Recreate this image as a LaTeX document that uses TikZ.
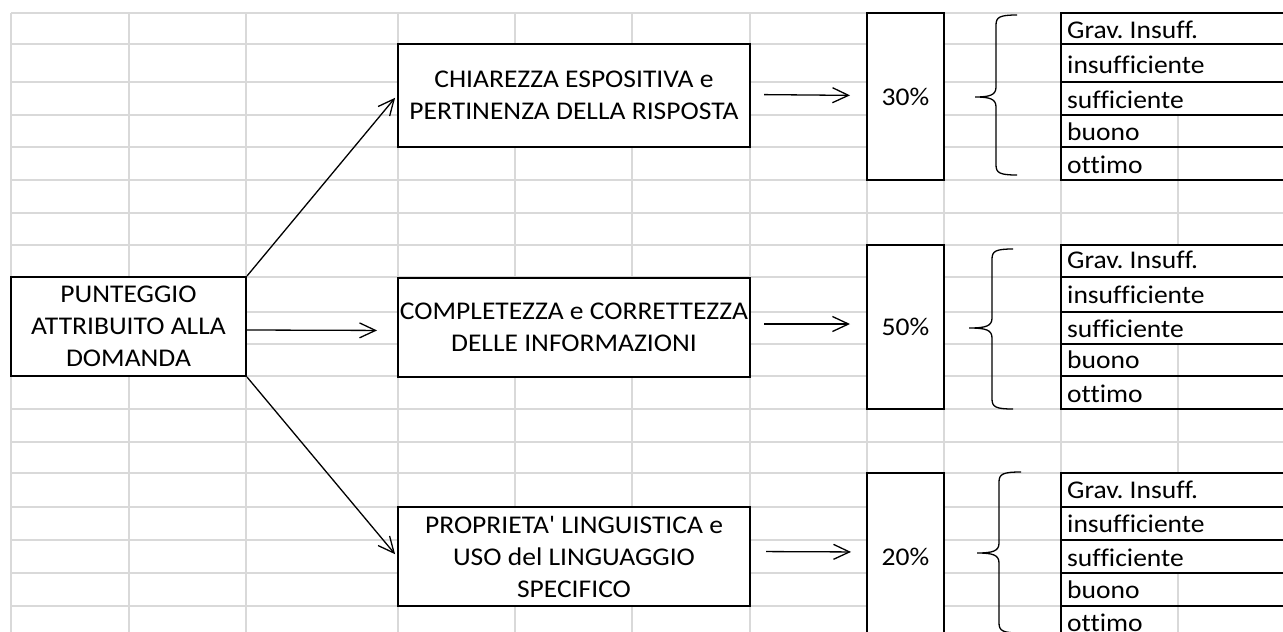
\documentclass[tikz,border=0pt]{standalone}
\usepackage{fontspec}
\newfontfamily\xlfont{Carlito}[FakeStretch=1.08,Ligatures=CommonOff]
\usetikzlibrary{arrows.meta}
\definecolor{gridc}{RGB}{217,217,217}
\frenchspacing
\tikzset{
  gridline/.style={draw=gridc,line width=1.2pt},
  box/.style={draw=black,line width=2pt,fill=white,align=center,inner sep=0pt,
    font=\xlfont\fontsize{25.5}{32}\selectfont},
  conn/.style={draw=black,line width=1.3pt,-{Straight Barb[length=16pt,width=15pt]}},
  bracepath/.style={draw=black,line width=1.3pt},
  cell/.style={anchor=base west,inner sep=0pt,font=\xlfont\fontsize{25.5}{32}\selectfont},
  tline/.style={draw=black,line width=2pt},
}
\begin{document}
\begin{tikzpicture}[x=1pt,y=-1pt]
\useasboundingbox (0,0) rectangle (1283,632);
\fill[white] (0,0) rectangle (1283,632);
% grid
\foreach \y in {13,44,82,115,147,180,213,245,277,312,344,376,409,442,473,507,540,573,606}
  \draw[gridline] (11,\y) -- (1290,\y);
\foreach \x in {11,129,246,398,515,632,750,867,944,1061}
  \draw[gridline] (\x,13) -- (\x,640);
\draw[gridline] (1178,115) -- (1178,245);
\draw[gridline] (1178,344) -- (1178,473);
\draw[gridline] (1178,573) -- (1178,640);

% boxes
\node[box,minimum width=235pt,minimum height=99pt] (pun) at (128.5,326.5)
  {PUNTEGGIO\\ATTRIBUITO ALLA\\DOMANDA};
\node[box,minimum width=352pt,minimum height=103pt] (chi) at (574,95.5)
  {CHIAREZZA ESPOSITIVA e\\PERTINENZA DELLA RISPOSTA};
\node[box,minimum width=352pt,minimum height=99pt] (comp) at (574,327)
  {COMPLETEZZA e CORRETTEZZA\\DELLE INFORMAZIONI};
\node[box,minimum width=352pt,minimum height=99pt] (prop) at (574,556.5)
  {PROPRIETA' LINGUISTICA e\\USO del LINGUAGGIO\\SPECIFICO};

\node[box,minimum width=77pt,minimum height=167pt] (p30) at (905.5,96.5) {30\%};
\node[box,minimum width=77pt,minimum height=164pt] (p50) at (905.5,327) {50\%};
\node[box,minimum width=77pt,minimum height=168pt] (p20) at (905.5,557) {20\%};

% connectors
\draw[conn,shorten >=3pt] (pun.north east) -- (chi.west);
\draw[conn,shorten >=20pt] ([yshift=-3.5pt]pun.east) -- ([yshift=-3.5pt]comp.west);
\draw[conn,shorten >=3pt] (pun.south east) -- (prop.west);
\draw[conn,shorten <=13pt,shorten >=16pt] ([yshift=1pt]chi.east) -- ([yshift=1pt]p30.west);
\draw[conn,shorten <=13pt,shorten >=16pt] ([yshift=3pt]comp.east) -- ([yshift=3pt]p50.west);
\draw[conn,shorten <=15pt,shorten >=15pt] ([yshift=5pt]prop.east) -- ([yshift=5pt]p20.west);

% braces
\foreach \top/\mid/\bot/\sx/\tx/\ex in {15/97/175/996/975/1017, 249/328/409/992/969/1013, 472/553/633/999/977/1021}
  \draw[bracepath] (\ex,\top) .. controls (\sx+4,\top) and (\sx,\top+2) .. (\sx,\top+10)
    -- (\sx,\mid-10) .. controls (\sx,\mid-2) and (\sx-6,\mid) .. (\tx,\mid)
    .. controls (\sx-6,\mid) and (\sx,\mid+2) .. (\sx,\mid+10)
    -- (\sx,\bot-10) .. controls (\sx,\bot-2) and (\sx+4,\bot) .. (\ex,\bot);

% tables
\foreach \y in {13,44,82,115,147,180,245,277,312,344,376,409,473,507,540,573,606}
  \draw[tline] (1061,\y) -- (1290,\y);
\draw[tline] (1061,12) -- (1061,181);
\draw[tline] (1061,244) -- (1061,410);
\draw[tline] (1061,472) -- (1061,640);

\foreach \b/\n in {38/1,268/2,498/3} {
  \node[cell] (g\n) at (1067,\b) {Grav. Insuff.};
}
\foreach \b/\n in {73/1,303/2,532/3} {
  \node[cell] (i\n) at (1067,\b) {insufficiente};
}
\foreach \b/\n in {108/1,337/2,566/3} {
  \node[cell] (s\n) at (1067,\b) {sufficiente};
}
\foreach \b/\n in {140/1,368/2,598/3} {
  \node[cell] (b\n) at (1067,\b) {buono};
}
\foreach \b/\n in {173/1,402/2,631/3} {
  \node[cell] (o\n) at (1067,\b) {ottimo};
}
\end{tikzpicture}
\end{document}
